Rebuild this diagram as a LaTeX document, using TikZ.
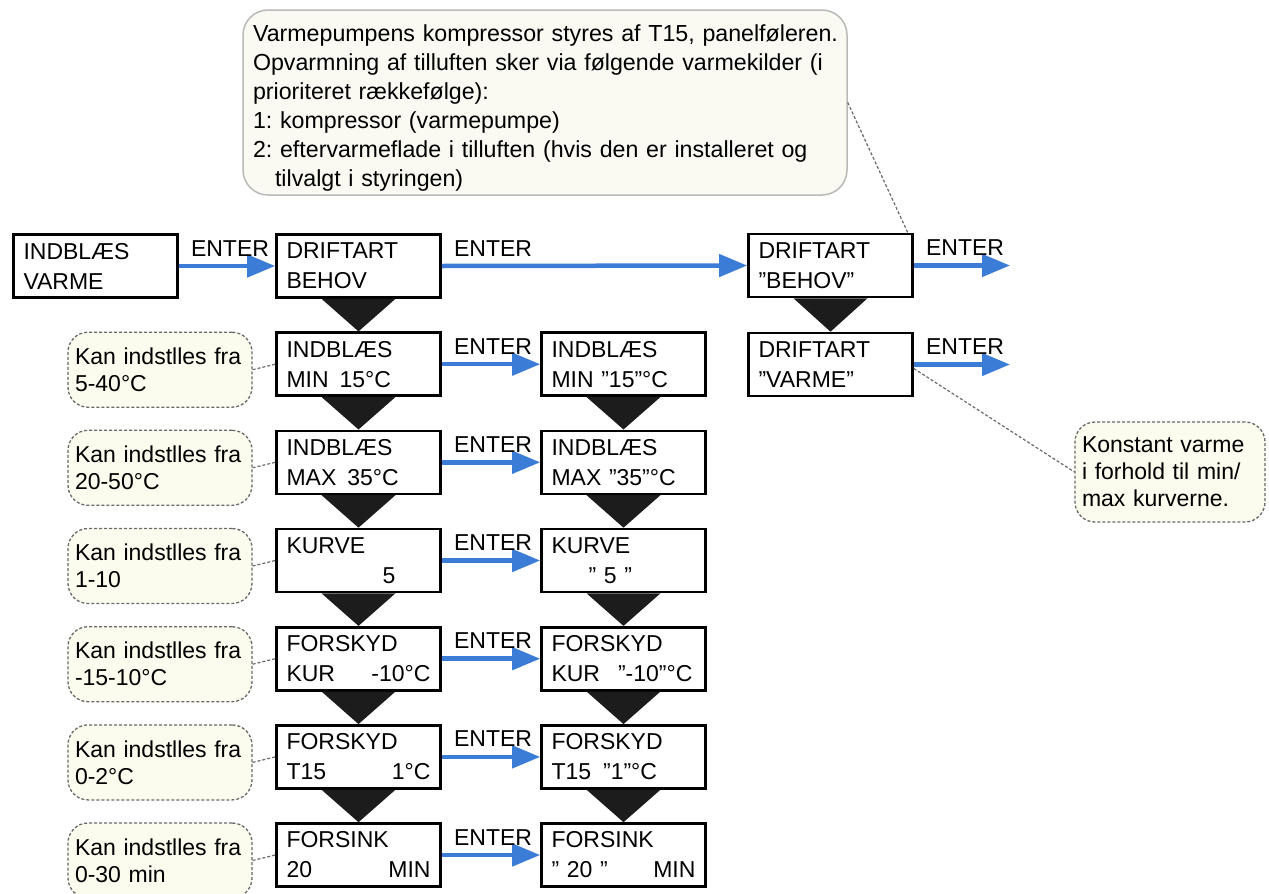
\documentclass[tikz,border=0pt]{standalone}
\usepackage{fontspec}
\setmainfont{Liberation Sans}
\usetikzlibrary{arrows.meta}
\definecolor{arrblue}{RGB}{58,124,214}
\definecolor{notefill}{RGB}{251,251,238}
\definecolor{topfill}{RGB}{250,250,243}
\definecolor{notedraw}{RGB}{105,105,105}
\definecolor{topdraw}{RGB}{185,185,185}
\definecolor{trifill}{RGB}{28,28,28}
\frenchspacing
\begin{document}
\begin{tikzpicture}[x=1pt,y=-1pt,
  box/.style={draw=black, line width=2.6pt, fill=white, minimum width=164pt, minimum height=63pt,
    text width=144pt, inner xsep=10pt, inner ysep=0pt, align=left,
    font=\fontsize{23pt}{30pt}\selectfont\frenchspacing},
  notebox/.style={draw=notedraw, densely dashed, line width=1.3pt, fill=notefill, rounded corners=20pt,
    minimum width=184pt, minimum height=75pt, text width=170pt, inner xsep=7pt, inner ysep=0pt,
    align=left, font=\fontsize{23pt}{27pt}\selectfont\frenchspacing},
  topnote/.style={draw=topdraw, line width=1.5pt, fill=topfill, rounded corners=25pt,
    minimum width=604pt, minimum height=185pt, text width=584pt, inner xsep=10pt, inner ysep=0pt,
    align=left, font=\fontsize{23.2pt}{29pt}\selectfont\frenchspacing},
  conn/.style={draw=notedraw, densely dashed, line width=1.2pt},
  arr/.style={draw=arrblue, line width=4.5pt, -{Triangle[length=28pt,width=22pt]}},
  enter/.style={pos=0, anchor=base west, xshift=10pt, yshift=10pt, inner sep=0pt,
    font=\fontsize{23pt}{27pt}\selectfont},
  tri/.style={fill=trifill}
]
\useasboundingbox (0,0) rectangle (1269,894);

% top note
\node[topnote] (tn) at (545,102.5) {\mbox{\rule{0pt}{28pt}Varmepumpens kompressor styres af T15, panelføleren.}\\
\mbox{Opvarmning af tilluften sker via følgende varmekilder (i}\\
prioriteret rækkefølge):\\
1: kompressor (varmepumpe)\\
\mbox{2: eftervarmeflade i tilluften (hvis den er installeret og}\\
\hspace*{22pt}tilvalgt i styringen)};

% boxes
\node[box] (b0) at (95.5,266) {INDBLÆS\\VARME};

\node[box] (c1r0) at (358.5,266) {DRIFTART\\BEHOV};
\node[box] (c1r1) at (358.5,364.2) {INDBLÆS\\MIN\hspace{11pt}15°C};
\node[box] (c1r2) at (358.5,462.3) {INDBLÆS\\MAX\hspace{11pt}35°C};
\node[box] (c1r3) at (358.5,560.5) {KURVE\\\hspace*{96pt}5};
\node[box] (c1r4) at (358.5,658.7) {FORSKYD\\KUR\hfill -10°C};
\node[box] (c1r5) at (358.5,756.9) {FORSKYD\\T15\hfill 1°C};
\node[box] (c1r6) at (358.5,855) {FORSINK\\20\hfill MIN};

\node[box] (c2r1) at (623.5,364.2) {INDBLÆS\\MIN ”15”°C};
\node[box] (c2r2) at (623.5,462.3) {INDBLÆS\\MAX ”35”°C};
\node[box] (c2r3) at (623.5,560.5) {KURVE\\\hspace*{37pt}” 5 ”};
\node[box] (c2r4) at (623.5,658.7) {FORSKYD\\KUR\hspace{18pt}”-10”°C};
\node[box] (c2r5) at (623.5,756.9) {FORSKYD\\T15\hspace{12pt}”1”°C};
\node[box] (c2r6) at (623.5,855) {FORSINK\\” 20 ”\hfill MIN};

\node[box] (c3a) at (830.5,265.5) {DRIFTART\\”BEHOV”};
\node[box] (c3b) at (830.5,364.5) {DRIFTART\\”VARME”};

% triangles
\foreach \a/\b in {c1r0/c1r1,c1r1/c1r2,c1r2/c1r3,c1r3/c1r4,c1r4/c1r5,c1r5/c1r6,
                   c2r1/c2r2,c2r2/c2r3,c2r3/c2r4,c2r4/c2r5,c2r5/c2r6,c3a/c3b}
  \fill[tri] ([xshift=-37pt]\a.south) -- ([xshift=37pt]\a.south) -- (\b.north) -- cycle;

% left notes
\node[notebox] (n1) at (160,369.7) {Kan indstlles fra\\5-40°C};
\node[notebox] (n2) at (160,467.8) {Kan indstlles fra\\20-50°C};
\node[notebox] (n3) at (160,566) {Kan indstlles fra\\1-10};
\node[notebox] (n4) at (160,664.2) {Kan indstlles fra\\-15-10°C};
\node[notebox] (n5) at (160,762.4) {Kan indstlles fra\\0-2°C};
\node[notebox] (n6) at (160,860.5) {Kan indstlles fra\\0-30 min};
\foreach \i in {1,...,6}
  \draw[conn] (n\i.east) -- (c1r\i.west);

% right note
\node[notebox, minimum width=190pt, minimum height=100pt, text width=176pt] (rn) at (1170,472)
  {Konstant varme\\i forhold til min/\\max kurverne.};
\draw[conn] ([yshift=-4pt]c3b.east) -- (rn.west);
\draw[conn] (tn.east) -- ([xshift=-6pt]c3a.north east);

% arrows
\coordinate (o1) at (1010,265.5);
\coordinate (o2) at (1010,364.5);
\draw[arr] (b0.east) -- node[enter] (e0) {ENTER} (c1r0.west);
\draw[arr] (c1r0.east) -- node[enter] (e00) {ENTER} (c3a.west);
\foreach \i in {1,...,6}
  \draw[arr] (c1r\i.east) -- node[enter] (e\i) {ENTER} (c2r\i.west);
\draw[arr] (c3a.east) -- node[enter] (e7) {ENTER} (o1);
\draw[arr] (c3b.east) -- node[enter] (e8) {ENTER} (o2);
\end{tikzpicture}
\end{document}
